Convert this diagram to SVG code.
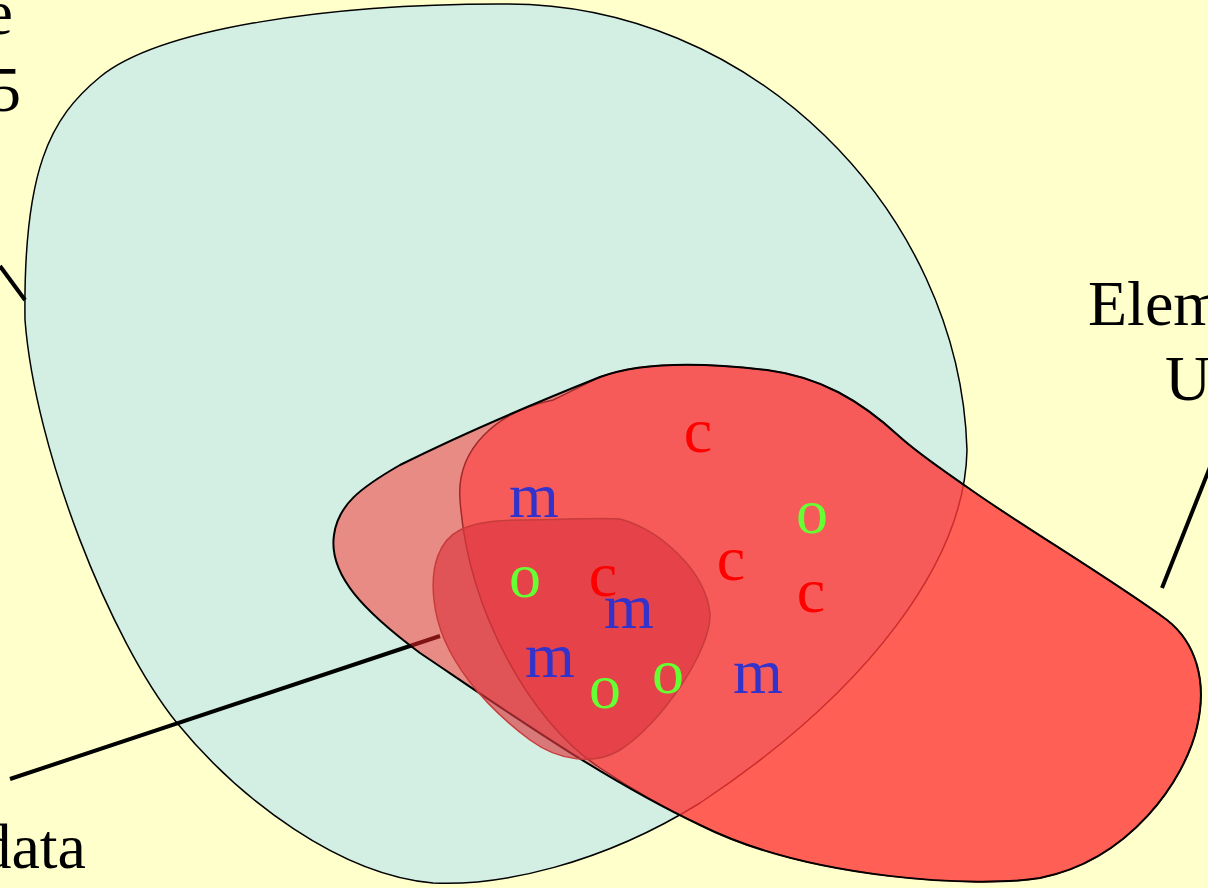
<svg xmlns="http://www.w3.org/2000/svg" width="1208" height="888" viewBox="0 0 1208 888">
<style>
.lbl{font-family:"Liberation Serif","Times New Roman",serif;font-size:64px;fill:#000}
.pt{font-family:"Liberation Serif","Times New Roman",serif;font-size:64px;text-anchor:middle}
.m{fill:#3333CC}.c{fill:#FF0000}.o{fill:#66FF33}
.conn{stroke:#000;stroke-width:4;fill:none;stroke-linecap:butt}
</style>
<defs>
<path id="redOutline" d="M 420,653 C 365,612 328,575 334,535 C 338,505 360,488 400,465 C 450,440 530,405 600,377 C 640,362 700,362 767,370 C 820,377 860,400 900,437 C 920,455 950,475 967,487 C 1020,525 1110,578 1167,620 C 1195,642 1208,680 1197,727 C 1185,780 1130,860 1040,878 C 980,888 810,880 700,825 C 600,778 490,700 420,653 Z"/>
</defs>
<rect width="1208" height="888" fill="#FFFFCC"/>
<g id="set-teal">
<path d="M 25,320 C 23,170 50,118 100,77 C 160,28 330,4 500,4 C 750,0 960,210 967,450 C 965,560 870,690 700,803 C 600,865 500,886 433,883 C 340,875 240,800 177,723 C 110,640 35,450 25,320 Z" fill="#D3EFE3" stroke="#000" stroke-width="1.5"/>
</g>
<g id="connectors">
<line class="conn" x1="0" y1="266" x2="25" y2="300"/>
<line class="conn" x1="10" y1="779" x2="440" y2="636" stroke-width="5"/>
<line class="conn" x1="1162" y1="588" x2="1212" y2="462"/>
</g>
<g id="set-red">
<use href="#redOutline" fill="rgb(255,40,40)" fill-opacity="0.5"/>
</g>
<g id="set-red-inner">
<path d="M 553,400 C 570,392 585,384 600,377 C 640,362 700,362 767,370 C 820,377 860,400 900,437 C 920,455 950,475 967,487 C 1020,525 1110,578 1167,620 C 1195,642 1208,680 1197,727 C 1185,780 1130,860 1040,878 C 980,888 810,880 700,825 C 665,808 630,788 600,768 C 530,722 468,610 460,500 C 456,450 495,412 553,400 Z" fill="rgb(255,60,60)" fill-opacity="0.6" stroke="#9E2A2A" stroke-width="1.5"/>
</g>
<g id="outline-red">
<use href="#redOutline" fill="none" stroke="#000" stroke-width="2"/>
</g>
<g id="set-data">
<path d="M 520,520 C 560,520 600,517 620,519 C 660,530 705,570 710,613 C 712,650 660,725 620,750 C 595,765 560,762 530,740 C 490,710 440,660 434,600 C 430,565 440,540 460,530 C 475,522 495,520 520,520 Z" fill="rgb(220,55,65)" fill-opacity="0.65" stroke="#C83C3C" stroke-width="1.5"/>
</g>
<g id="points">
<text class="pt c" x="698" y="452">c</text>
<text class="pt m" x="534" y="517">m</text>
<text class="pt o" x="812" y="533">o</text>
<text class="pt c" x="731" y="580">c</text>
<text class="pt c" x="811" y="612">c</text>
<text class="pt m" x="758" y="693">m</text>
<text class="pt o" x="525" y="597">o</text>
<text class="pt c" x="603" y="596">c</text>
<text class="pt m" x="629" y="628">m</text>
<text class="pt m" x="550" y="677">m</text>
<text class="pt o" x="605" y="708">o</text>
<text class="pt o" x="668" y="693">o</text>
</g>
<g id="labels">
<text class="lbl" x="13" y="34" text-anchor="end">e</text>
<text class="lbl" x="21" y="111" text-anchor="end">5</text>
<text class="lbl" x="1088" y="325">Elem</text>
<text class="lbl" x="1165" y="400">U</text>
<text class="lbl" x="86" y="868" text-anchor="end">data</text>
</g>
</svg>
